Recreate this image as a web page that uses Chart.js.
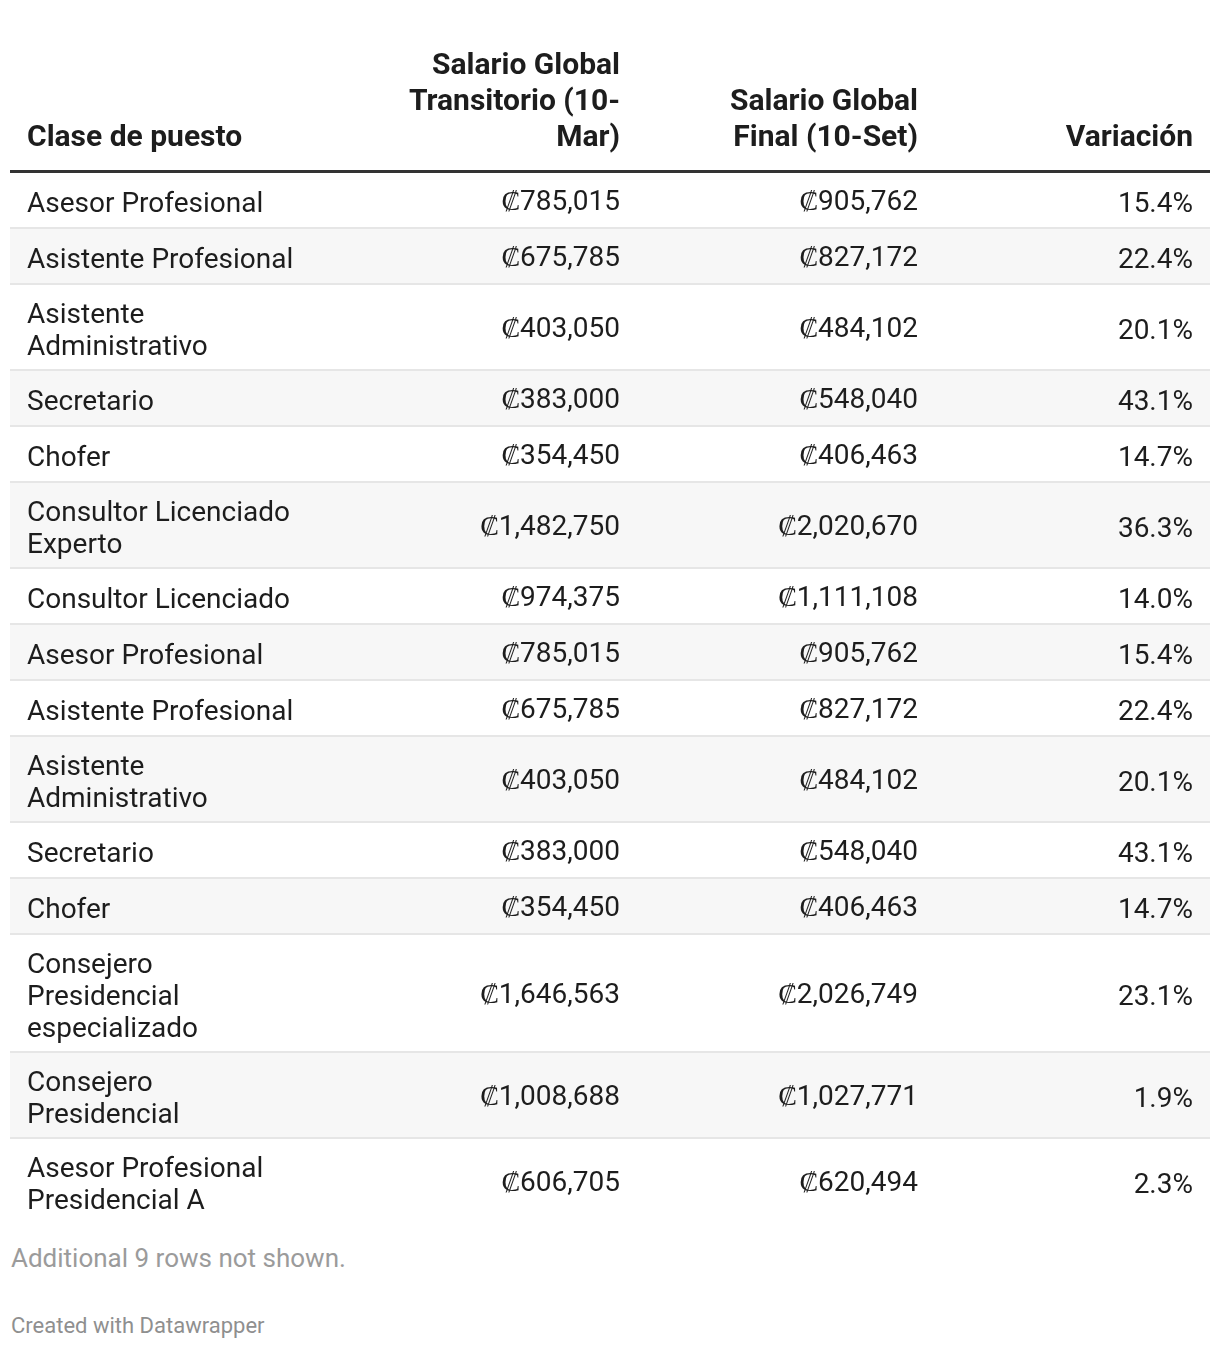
<!DOCTYPE html>
<html>
<head>
<meta charset="utf-8">
<script src="https://cdn.jsdelivr.net/npm/chart.js@4"></script>
<style>
  body { margin: 0; background: #fff; font-family: Roboto, sans-serif; }
  #wrap { position: relative; width: 1220px; height: 1350px; }
  #tabla { position: absolute; left: 10px; top: 0; }
  .nota { position: absolute; left: 11px; color: #9b9b9b; }
  #mas { top: 1243px; font-size: 26px; }
  #creado { top: 1313px; font-size: 22px; color: #8f8f8f; }
</style>
</head>
<body>
<div id="wrap">
  <canvas id="tabla" width="1200" height="1230"></canvas>
  <div class="nota" id="mas">Additional 9 rows not shown.</div>
  <div class="nota" id="creado">Created with Datawrapper</div>
</div>
<script>
// Datos de la tabla
const encabezados = [
  ['Clase de puesto'],
  ['Salario Global', 'Transitorio (10-', 'Mar)'],
  ['Salario Global', 'Final (10-Set)'],
  ['Variación']
];

const puestos = [
  ['Asesor Profesional'],
  ['Asistente Profesional'],
  ['Asistente', 'Administrativo'],
  ['Secretario'],
  ['Chofer'],
  ['Consultor Licenciado', 'Experto'],
  ['Consultor Licenciado'],
  ['Asesor Profesional'],
  ['Asistente Profesional'],
  ['Asistente', 'Administrativo'],
  ['Secretario'],
  ['Chofer'],
  ['Consejero', 'Presidencial', 'especializado'],
  ['Consejero', 'Presidencial'],
  ['Asesor Profesional', 'Presidencial A']
];

const salarioTransitorio = [785015, 675785, 403050, 383000, 354450, 1482750, 974375,
  785015, 675785, 403050, 383000, 354450, 1646563, 1008688, 606705];

const salarioFinal = [905762, 827172, 484102, 548040, 406463, 2020670, 1111108,
  905762, 827172, 484102, 548040, 406463, 2026749, 1027771, 620494];

const variacion = [15.4, 22.4, 20.1, 43.1, 14.7, 36.3, 14.0,
  15.4, 22.4, 20.1, 43.1, 14.7, 23.1, 1.9, 2.3];

// Estilo
const ALTO_LINEA = 32;
const altoFila = n => Math.max(56, 22 + ALTO_LINEA * n);
const alturas = puestos.map(p => altoFila(p.length));
const total = alturas.reduce((a, b) => a + b, 0);

// bordes de las columnas (x en el canvas)
const xCol = [17, 610, 908, 1183];
const alinear = ['left', 'right', 'right', 'right'];

const colon = v => '\u20A1' + v.toLocaleString('en-US');

const pluginTabla = {
  id: 'tabla',
  beforeDraw(chart) {
    const ctx = chart.ctx;
    ctx.save();
    ctx.fillStyle = '#fff';
    ctx.fillRect(0, 0, chart.width, chart.height);
    // encabezados, alineados abajo
    ctx.font = 'bold 30px Roboto';
    ctx.fillStyle = '#1d1d1d';
    ctx.textBaseline = 'middle';
    encabezados.forEach((lineas, c) => {
      ctx.textAlign = alinear[c];
      lineas.forEach((t, i) => {
        const y = 138 - (lineas.length - 1 - i) * 36;
        ctx.fillText(t, xCol[c], y);
      });
    });
    ctx.restore();
  },
  afterDatasetsDraw(chart) {
    const ctx = chart.ctx;
    const area = chart.chartArea;
    ctx.save();
    ctx.font = '28px Roboto';
    ctx.fillStyle = '#1d1d1d';
    ctx.textBaseline = 'middle';
    puestos.forEach((lineas, r) => {
      const bar = chart.getDatasetMeta(r).data[0];
      const top = Math.min(bar.y, bar.base);
      const bottom = Math.max(bar.y, bar.base);
      const cy = (top + bottom) / 2 + 4.5;
      // separador
      if (r < puestos.length - 1) {
        ctx.fillStyle = '#e6e6e6';
        ctx.fillRect(area.left, bottom - 1, area.right - area.left, 2);
        ctx.fillStyle = '#1d1d1d';
      }
      ctx.textAlign = 'left';
      lineas.forEach((t, i) => {
        ctx.fillText(t, xCol[0], cy + (i - (lineas.length - 1) / 2) * ALTO_LINEA);
      });
      ctx.textAlign = 'right';
      ctx.fillText(colon(salarioTransitorio[r]), xCol[1], cy - 2);
      ctx.fillText(colon(salarioFinal[r]), xCol[2], cy - 2);
      ctx.fillText(variacion[r].toFixed(1) + '%', xCol[3], cy);
    });
    // linea gruesa bajo el encabezado
    ctx.fillStyle = '#333';
    ctx.fillRect(area.left, area.top - 2, area.right - area.left, 3);
    ctx.restore();
  }
};

document.addEventListener('DOMContentLoaded', function() {
  const data = {
    labels: [''],
    datasets: puestos.map((p, i) => ({
      label: p.join(' '),
      data: [alturas[i]],
      backgroundColor: i % 2 ? '#f7f7f7' : '#ffffff',
      borderWidth: 0,
      barPercentage: 1,
      categoryPercentage: 1
    }))
  };

  const config = {
    type: 'bar',
    data: data,
    options: {
      responsive: false,
      animation: false,
      devicePixelRatio: 1,
      layout: { padding: { top: 172, bottom: 1230 - 172 - total, left: 0, right: 0 } },
      plugins: { legend: { display: false }, tooltip: { enabled: false } },
      scales: {
        x: { display: false, stacked: true },
        y: { display: false, stacked: true, reverse: true, min: 0, max: total }
      }
    },
    plugins: [pluginTabla]
  };

  const ctx = document.getElementById('tabla').getContext('2d');
  new Chart(ctx, config);
});
</script>
</body>
</html>
